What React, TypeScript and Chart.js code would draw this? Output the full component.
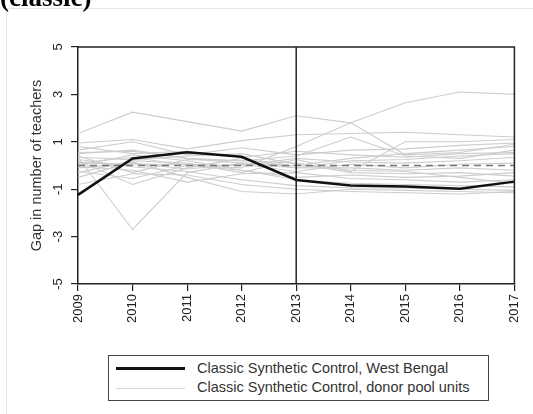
import React, { useEffect, useRef } from "react";
import { Chart, registerables } from "chart.js";

Chart.register(...registerables);

const years = ["2009", "2010", "2011", "2012", "2013", "2014", "2015", "2016", "2017"];
const yTicks = [5, 3, 1, -1, -3, -5];
const treatedLabel = "Classic Synthetic Control, West Bengal";
const donorLabel = "Classic Synthetic Control, donor pool units";
const yTitle = "Gap in number of teachers";
const panelTitle = "(classic)";
const treatmentYear = "2013";

const westBengal = [-1.24, 0.3, 0.56, 0.37, -0.61, -0.84, -0.89, -0.98, -0.68];
const zeroLine = [0, 0, 0, 0, 0, 0, 0, 0, 0];

const donor01 = [1.35, 2.25, 1.85, 1.45, 2.1, 1.8, 0.45, 0.55, 0.9];
const donor02 = [0.1, 0.35, 0.0, -0.1, 0.8, 1.8, 2.65, 3.1, 3.0];
const donor03 = [0.95, 1.1, 0.7, 1.05, 1.3, 1.35, 1.4, 1.3, 1.2];
const donor04 = [0.5, 0.65, 0.3, 0.2, 0.4, 1.2, 0.4, 0.3, 0.65];
const donor05 = [-0.3, 0.2, 0.1, -0.3, 0.25, -0.25, 1.0, 1.0, 1.1];
const donor06 = [0.35, -2.7, -0.3, 0.1, 0.0, 0.3, 0.5, 0.65, 0.8];
const donor07 = [0.65, 1.0, 0.45, 0.75, 0.45, 0.65, 0.7, 0.85, 0.95];
const donor08 = [0.2, -0.8, -0.1, 0.3, -0.1, 0.2, 0.25, 0.4, 0.5];
const donor09 = [0.0, 0.45, 0.2, -0.2, -0.5, -0.4, -0.5, -0.45, -0.3];
const donor10 = [-0.5, 0.15, -0.5, -1.1, -1.2, -1.0, -1.05, -1.1, -1.15];
const donor11 = [0.25, -0.05, -0.25, -0.6, -0.85, -0.95, -0.95, -1.0, -1.05];
const donor12 = [-0.05, -0.2, -0.7, -0.35, -0.3, -0.55, -0.6, -0.7, -0.6];
const donor13 = [0.55, 0.6, 0.3, 0.1, -0.1, -0.1, -0.2, -0.1, -0.2];
const donor14 = [-0.8, -0.35, -0.4, -0.8, -1.0, -1.1, -1.15, -1.2, -1.1];
const donor15 = [0.1, 0.05, 0.05, 0.0, 0.3, 0.15, 0.1, 0.2, 0.35];
const donor16 = [-0.25, -0.55, 0.0, -0.2, -0.6, -0.75, -0.8, -0.85, -0.9];
const donor17 = [0.8, 0.5, 0.6, 0.35, 0.6, 0.45, 0.35, 0.5, 0.55];
const donor18 = [0.4, -0.3, 0.25, 0.2, 0.1, -0.3, -0.35, -0.3, -0.45];
const donor19 = [-0.1, 0.1, -0.15, 0.05, -0.25, 0.05, -0.1, 0.05, 0.1];
const donor20 = [0.35, 0.25, 0.4, 0.5, 0.05, -0.2, -0.25, -0.5, -0.75];

const donors = [
  donor01, donor02, donor03, donor04, donor05, donor06, donor07, donor08, donor09, donor10,
  donor11, donor12, donor13, donor14, donor15, donor16, donor17, donor18, donor19, donor20,
];

const FONT = "'Liberation Sans', Arial, Helvetica, sans-serif";
const GRAY = "#cdcdcd";
const AXIS = "#222222";

const framePlugin = {
  id: "framePlugin",
  afterDatasetsDraw(chart: any) {
    const { ctx, chartArea, scales } = chart;
    const { left, right, top, bottom } = chartArea;
    ctx.save();
    ctx.strokeStyle = AXIS;
    ctx.lineWidth = 1.5;
    ctx.beginPath();
    ctx.moveTo(left, top);
    ctx.lineTo(right, top);
    ctx.lineTo(right, bottom);
    ctx.stroke();
    const xv = scales.x.getPixelForValue(years.indexOf(treatmentYear));
    ctx.beginPath();
    ctx.moveTo(xv, top);
    ctx.lineTo(xv, bottom);
    ctx.stroke();
    ctx.restore();
  },
  afterDraw(chart: any) {
    const { ctx, chartArea, scales } = chart;
    ctx.save();
    ctx.fillStyle = AXIS;
    ctx.font = `13px ${FONT}`;
    ctx.textAlign = "center";
    ctx.textBaseline = "middle";
    for (const v of yTicks) {
      const y = scales.y.getPixelForValue(v);
      ctx.save();
      ctx.translate(58, y);
      ctx.rotate(-Math.PI / 2);
      ctx.fillText(String(v), 0, 0);
      ctx.restore();
    }
    ctx.font = `14.5px ${FONT}`;
    ctx.fillStyle = "#333";
    ctx.translate(37, (chartArea.top + chartArea.bottom) / 2);
    ctx.rotate(-Math.PI / 2);
    ctx.fillText(yTitle, 0, 0);
    ctx.restore();
  },
};

export default function App() {
  const ref = useRef<HTMLCanvasElement | null>(null);
  useEffect(() => {
    if (!ref.current) return;
    const datasets: any[] = [
      {
        label: treatedLabel,
        data: westBengal,
        borderColor: "#111111",
        borderWidth: 2.5,
        pointRadius: 0,
        tension: 0,
      },
      {
        label: "zero",
        data: zeroLine,
        borderColor: "#777777",
        borderWidth: 1.5,
        borderDash: [7, 5],
        pointRadius: 0,
        tension: 0,
      },
      ...donors.map((d, i) => ({
        label: i === 0 ? donorLabel : `donor ${i + 1}`,
        data: d,
        borderColor: GRAY,
        borderWidth: 1.1,
        pointRadius: 0,
        tension: 0,
      })),
    ];
    const chart = new Chart(ref.current, {
      type: "line",
      data: { labels: years, datasets },
      options: {
        responsive: false,
        animation: false,
        layout: { padding: { top: 47, right: 14, left: 0, bottom: 0 } },
        plugins: { legend: { display: false }, tooltip: { enabled: false } },
        scales: {
          x: {
            type: "category",
            offset: false,
            grid: {
              display: true,
              drawOnChartArea: false,
              drawTicks: true,
              tickLength: 7,
              color: AXIS,
              lineWidth: 1.2,
            },
            border: { display: true, color: AXIS, width: 1.5 },
            ticks: {
              minRotation: 90,
              maxRotation: 90,
              autoSkip: false,
              padding: 3,
              color: AXIS,
              font: { size: 13, family: FONT },
            },
            afterFit: (s: any) => {
              s.height = 130;
            },
          },
          y: {
            type: "linear",
            min: -5,
            max: 5,
            grid: {
              display: true,
              drawOnChartArea: false,
              drawTicks: true,
              tickLength: 7,
              color: AXIS,
              lineWidth: 1.2,
            },
            border: { display: true, color: AXIS, width: 1.5 },
            ticks: { display: false, stepSize: 2 },
            afterBuildTicks: (s: any) => {
              s.ticks = yTicks.map((v) => ({ value: v }));
            },
            afterFit: (s: any) => {
              s.width = 78;
            },
          },
        },
      } as any,
      plugins: [framePlugin],
    });
    return () => chart.destroy();
  }, []);

  return (
    <div
      style={{
        position: "absolute",
        left: 0,
        top: 0,
        width: 533,
        height: 414,
        background: "#fff",
        overflow: "hidden",
        fontFamily: FONT,
      }}
    >
      <div
        style={{
          position: "absolute",
          left: 6,
          top: 8,
          width: 540,
          height: 420,
          borderLeft: "1px solid #e6e6e6",
          borderTop: "1px solid #e6e6e6",
        }}
      />
      <canvas ref={ref} width={533} height={414} style={{ position: "absolute", left: 0, top: 0 }} />
      <div
        style={{
          position: "absolute",
          left: 0,
          top: -18,
          fontFamily: "'Liberation Serif', 'Times New Roman', serif",
          fontWeight: "bold",
          fontSize: 27,
          lineHeight: "31px",
          color: "#000",
          whiteSpace: "nowrap",
        }}
      >
        {panelTitle}
      </div>
      <div
        style={{
          position: "absolute",
          left: 108,
          top: 355,
          width: 379,
          height: 44,
          border: "1px solid #444",
          background: "#fff",
        }}
      >
        <div style={{ position: "absolute", left: 7, top: 11, width: 69, height: 2.5, background: "#111" }} />
        <div
          style={{
            position: "absolute",
            left: 88,
            top: 3,
            fontSize: 14.5,
            lineHeight: "19px",
            color: "#333",
            whiteSpace: "nowrap",
          }}
        >
          {treatedLabel}
        </div>
        <div style={{ position: "absolute", left: 7, top: 31.5, width: 69, height: 1, background: "#d8d8d8" }} />
        <div
          style={{
            position: "absolute",
            left: 88,
            top: 22,
            fontSize: 14.5,
            lineHeight: "19px",
            color: "#333",
            whiteSpace: "nowrap",
          }}
        >
          {donorLabel}
        </div>
      </div>
    </div>
  );
}
